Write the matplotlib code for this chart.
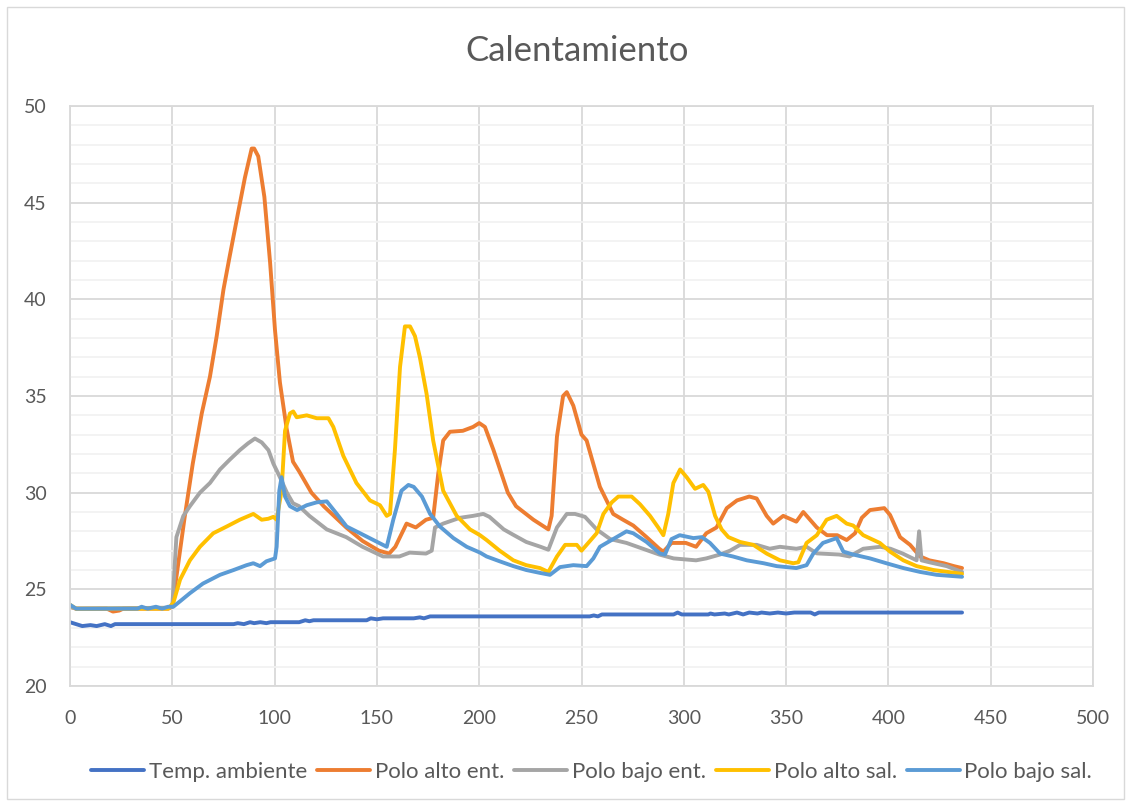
import matplotlib
matplotlib.use("Agg")
import matplotlib.pyplot as plt
from matplotlib.patches import Rectangle

plt.rcParams['font.family'] = ['Lato', 'DejaVu Sans']

# temperature logs, one (x, y) list per sensor
temp_amb_x = [0, 3, 6, 10, 13, 17, 20, 22, 80, 82, 85, 88, 90, 93, 96, 98, 112, 115, 117, 119,
              145, 147, 150, 153, 168, 171, 173, 176, 254, 256, 258, 260, 295, 297, 299, 312, 313,
              315, 320, 322, 326, 329, 332, 336, 338, 342, 346, 350, 354, 362, 364, 366, 436]
temp_amb_y = [23.3, 23.2, 23.1, 23.15, 23.1, 23.2, 23.1, 23.2, 23.2, 23.25, 23.2, 23.3, 23.25, 23.3,
              23.25, 23.3, 23.3, 23.4, 23.35, 23.4, 23.4, 23.5, 23.45, 23.5, 23.5, 23.55, 23.5, 23.6,
              23.6, 23.65, 23.6, 23.7, 23.7, 23.8, 23.7, 23.7, 23.75, 23.7, 23.75, 23.7, 23.8, 23.7,
              23.8, 23.75, 23.8, 23.75, 23.8, 23.75, 23.8, 23.8, 23.7, 23.8, 23.8]

alto_ent_x = [0, 3, 18, 21, 24, 26, 48, 50, 56, 60, 64.4, 68.4, 71.7, 75, 78, 82, 85.5, 88.8, 90,
              92, 95, 97.8, 100.2, 102.6, 105.9, 109, 112, 118, 124, 135, 143, 151, 156, 159, 164.5,
              169, 174, 177.5, 180, 182.4, 185.7, 192, 197, 200, 202.8, 207, 214, 218, 226.5, 233.8,
              235.4, 238, 241, 242.8, 246, 250, 252.5, 259, 265.5, 270.3, 275.3, 281.8, 288, 290,
              294, 301, 306, 311, 316, 321, 326, 332, 335.6, 340.5, 343.7, 348.6, 355, 358.4, 365,
              370, 375, 379.6, 383.7, 387, 391, 398, 400.8, 405.7, 410.6, 415.5, 420, 427, 432, 436]
alto_ent_y = [24.1, 24.0, 24.0, 23.85, 23.9, 24.0, 24.0, 24.1, 28.7, 31.5, 34.1, 36.0, 38.1, 40.5,
              42.2, 44.4, 46.3, 47.8, 47.8, 47.4, 45.3, 41.9, 38.4, 35.7, 33.3, 31.6, 31.1, 30.0,
              29.3, 28.2, 27.5, 27.0, 26.85, 27.2, 28.4, 28.2, 28.6, 28.7, 31.0, 32.7, 33.15, 33.2,
              33.4, 33.6, 33.4, 32.2, 30.0, 29.3, 28.6, 28.1, 28.8, 32.9, 35.0, 35.2, 34.5, 33.0,
              32.7, 30.3, 28.9, 28.6, 28.3, 27.7, 27.1, 26.95, 27.4, 27.4, 27.2, 27.9, 28.2, 29.2,
              29.6, 29.8, 29.7, 28.8, 28.4, 28.8, 28.5, 29.0, 28.2, 27.8, 27.8, 27.55, 27.9, 28.7,
              29.1, 29.2, 28.85, 27.7, 27.3, 26.7, 26.5, 26.35, 26.2, 26.1]

bajo_ent_x = [0, 3, 48, 50, 50.5, 52, 55.4, 58.6, 63.5, 68.4, 73.3, 78, 83, 87, 90.4, 93.7, 97,
              99.4, 102.6, 106, 109, 112, 117, 125.5, 135, 143, 153, 161, 166, 174, 176.8, 178.4,
              182.4, 190.6, 197, 202, 205, 212, 217, 223, 230, 233.8, 238, 242.8, 246.8, 251.7,
              257.4, 264, 272, 280, 288, 295, 306, 311, 317.7, 322.6, 327.5, 335.6, 342, 347, 355,
              360, 365, 376, 381, 387.7, 396, 401, 407, 413.8, 415, 416.2, 420, 428.5, 436]
bajo_ent_y = [24.1, 24.0, 24.05, 24.1, 25.0, 27.7, 28.8, 29.3, 30.0, 30.5, 31.2, 31.7, 32.2, 32.55,
              32.8, 32.6, 32.2, 31.5, 30.8, 30.0, 29.45, 29.3, 28.8, 28.1, 27.7, 27.2, 26.7, 26.7,
              26.9, 26.85, 27.0, 28.2, 28.4, 28.7, 28.8, 28.9, 28.75, 28.1, 27.8, 27.45, 27.2, 27.05,
              28.2, 28.9, 28.9, 28.75, 28.1, 27.6, 27.4, 27.1, 26.8, 26.6, 26.5, 26.6, 26.8, 27.0,
              27.3, 27.3, 27.1, 27.2, 27.1, 27.2, 26.86, 26.8, 26.7, 27.1, 27.2, 27.1, 26.85, 26.5,
              28.0, 26.5, 26.4, 26.2, 25.9]

alto_sal_x = [0, 3, 48, 50.5, 53.8, 58.6, 63.5, 70, 76.6, 83, 89.6, 93.7, 96.9, 99.4, 101, 103.4,
              105.1, 107.5, 109.1, 110.8, 115.7, 120.6, 126.3, 128.7, 133.6, 140, 146.6, 151.5,
              154.8, 156.4, 158.8, 161.3, 163.7, 166.2, 168.6, 171, 174.3, 177.5, 182.4, 189, 195.5,
              200.4, 203.6, 210, 216.7, 223, 229.7, 233.8, 238, 242, 247.7, 250, 253.3, 257.4,
              260.7, 264.8, 268, 274.5, 278.6, 283.5, 287.5, 290, 292.4, 294.9, 298.2, 301.4, 305.5,
              309.5, 312, 315.3, 318.5, 321.8, 327.5, 334, 340.5, 347, 353.5, 356, 360, 365, 369.8,
              374.7, 379.6, 382.8, 387.7, 395.8, 400.8, 407.3, 413.8, 422, 436]
alto_sal_y = [24.2, 24.0, 24.0, 24.3, 25.5, 26.5, 27.2, 27.9, 28.25, 28.6, 28.9, 28.6, 28.65, 28.75,
              28.6, 30.1, 33.2, 34.1, 34.2, 33.9, 34.0, 33.85, 33.85, 33.4, 31.9, 30.5, 29.6, 29.35,
              28.8, 28.9, 32.2, 36.5, 38.6, 38.6, 38.1, 37.0, 35.1, 32.7, 30.1, 28.8, 28.1, 27.8,
              27.55, 27.0, 26.5, 26.25, 26.1, 25.9, 26.7, 27.3, 27.3, 27.0, 27.4, 27.9, 28.9, 29.5,
              29.8, 29.8, 29.4, 28.8, 28.2, 27.8, 28.9, 30.5, 31.2, 30.8, 30.2, 30.4, 30.05, 28.8,
              28.1, 27.7, 27.45, 27.3, 26.85, 26.5, 26.35, 26.4, 27.4, 27.8, 28.6, 28.8, 28.4, 28.3,
              27.8, 27.4, 26.95, 26.5, 26.2, 26.0, 25.8]

bajo_sal_x = [0, 3, 33, 35, 38, 42, 45, 48, 50.5, 54, 58.6, 65, 73.3, 80, 86.3, 89.6, 92.9, 96,
              100.2, 101, 102.3, 103.4, 105.1, 107.5, 111, 115.7, 120.6, 125.5, 130.4, 135.2, 141.8,
              148.3, 154.8, 158, 162, 165.4, 168, 172, 176, 180.8, 187.4, 193.9, 200.4, 203.6, 210,
              216.7, 223, 229.7, 234.6, 239.5, 246, 252.5, 255.8, 259, 265.5, 272, 275.3, 281.8,
              288.4, 290.8, 294, 298, 304.7, 308.8, 312.8, 317.7, 324, 330.8, 339, 345.4, 355, 360,
              363.3, 368, 374.7, 378, 382.8, 391, 399, 407.3, 415.5, 423.6, 436]
bajo_sal_y = [24.2, 24.0, 24.0, 24.1, 24.0, 24.1, 24.0, 24.1, 24.1, 24.4, 24.8, 25.3, 25.75, 26.0,
              26.25, 26.35, 26.2, 26.45, 26.6, 27.2, 30.1, 30.8, 29.8, 29.3, 29.1, 29.35, 29.5,
              29.55, 28.9, 28.25, 27.9, 27.55, 27.2, 28.6, 30.1, 30.4, 30.3, 29.8, 28.9, 28.25,
              27.65, 27.2, 26.9, 26.7, 26.45, 26.2, 26.0, 25.85, 25.75, 26.15, 26.25, 26.2, 26.6,
              27.2, 27.6, 28.0, 27.9, 27.45, 26.85, 26.8, 27.6, 27.8, 27.65, 27.7, 27.4, 26.85,
              26.7, 26.5, 26.35, 26.2, 26.1, 26.25, 26.85, 27.4, 27.65, 26.95, 26.8, 26.6, 26.35,
              26.1, 25.9, 25.75, 25.65]

series = [
    ("Temp. ambiente", temp_amb_x, temp_amb_y, "#4472C4"),
    ("Polo alto ent.", alto_ent_x, alto_ent_y, "#ED7D31"),
    ("Polo bajo ent.", bajo_ent_x, bajo_ent_y, "#A5A5A5"),
    ("Polo alto sal.", alto_sal_x, alto_sal_y, "#FFC000"),
    ("Polo bajo sal.", bajo_sal_x, bajo_sal_y, "#5B9BD5"),
]

fig = plt.figure(figsize=(11.31, 8.06), dpi=100)
ax = fig.add_axes([70 / 1131, 1 - 686 / 806, 1023 / 1131, 580 / 806])

# thin frame round the whole chart area
fig.patches.append(Rectangle((7 / 1131, 7 / 806), 1117 / 1131, 792 / 806,
                             transform=fig.transFigure, fill=False,
                             edgecolor="#D9D9D9", linewidth=1.0))

for name, xs, ys, col in series:
    ax.plot(xs, ys, color=col, lw=2.8, label=name, solid_joinstyle="round",
            solid_capstyle="round")

ax.set_xlim(0, 500)
ax.set_ylim(20, 50)
ax.set_xticks(range(0, 501, 50))
ax.set_yticks(range(20, 51, 5))
ax.set_yticks(range(20, 51, 1), minor=True)
ax.grid(which="major", color="#D9D9D9", lw=1.3)
ax.grid(which="minor", axis="y", color="#F2F2F2", lw=1.3)
ax.set_axisbelow(True)
for sp in ax.spines.values():
    sp.set_color("#D9D9D9")
    sp.set_linewidth(1.3)
ax.tick_params(which="both", length=0, labelsize=14, labelcolor="#595959")
ax.tick_params(axis="y", pad=17)
ax.tick_params(axis="x", pad=17)

fig.text(0.51, 1 - 51 / 806, "Calentamiento", ha="center", va="center",
         fontsize=25, color="#595959")

fig.legend(loc="center", bbox_to_anchor=(0.523, 1 - 772 / 806), ncol=5, frameon=False,
           fontsize=16, labelcolor="#595959", handlelength=2.4, handletextpad=0.2,
           columnspacing=0.45)

fig.savefig("out.png", dpi=100)
